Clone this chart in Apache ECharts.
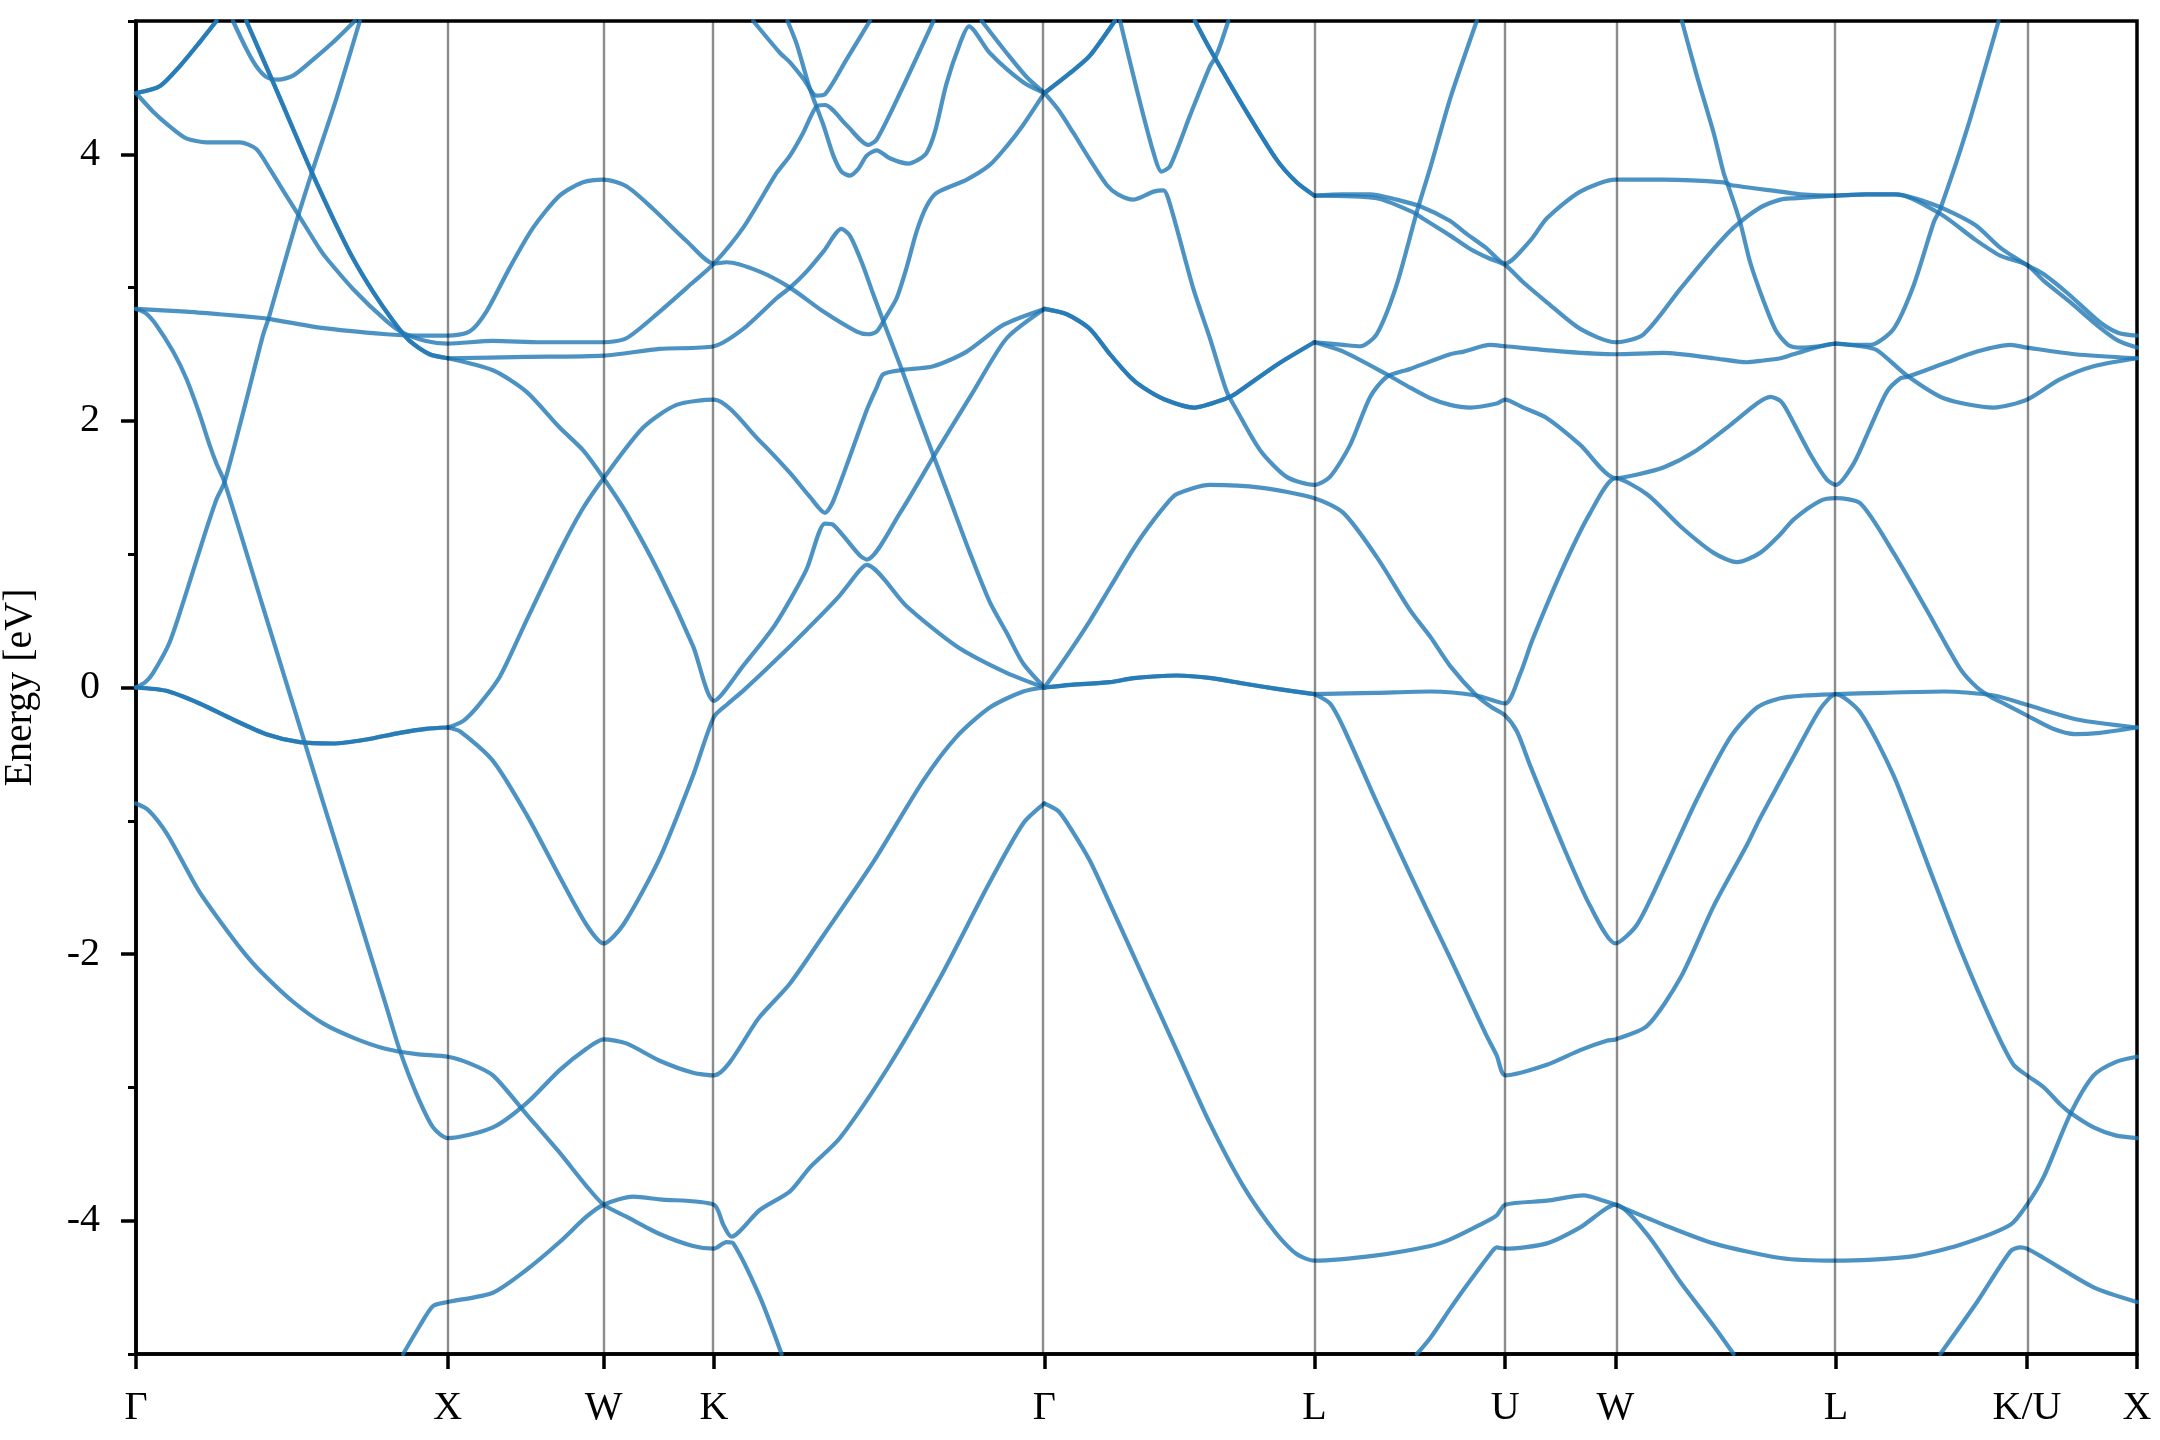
<!DOCTYPE html>
<html><head><meta charset="utf-8">
<script src="https://cdn.jsdelivr.net/npm/echarts@6/dist/echarts.min.js"></script>
<style>html,body{margin:0;padding:0;background:#fff}#c{width:2160px;height:1440px}</style>
</head><body><div id="c"></div>
<script>
// high-symmetry path
const kTicks = [0, 1, 1.5, 1.854, 2.914, 3.780, 4.392, 4.746, 5.453, 6.066, 6.419];
const kLabels = ['Γ','X','W','K','Γ','L','U','W','L','K/U','X'];
const yMajor = [-4, -2, 0, 2, 4];
const yMinor = [-5, -3, -1, 1, 3, 5];

// band curves [k, E(eV)]
const bandA = [[0,-0.87],[0.04,-0.92],[0.1,-1.1],[0.2,-1.52],[0.3,-1.85],[0.35,-2.0],[0.4,-2.13],[0.5,-2.35],[0.6,-2.52],[0.7,-2.63],[0.8,-2.71],[0.9,-2.75],[1.0,-2.77],[1.07,-2.82],[1.145,-2.91],[1.252,-3.2],[1.359,-3.49],[1.445,-3.74],[1.5,-3.88],[1.573,-3.97],[1.68,-4.1],[1.787,-4.19],[1.854,-4.21],[1.894,-4.16],[1.916,-4.17],[2.001,-4.57],[2.071,-5.0]];
const bandB1 = [[0,0],[0.097,-0.025],[0.204,-0.12],[0.311,-0.24],[0.418,-0.35],[0.525,-0.41],[0.632,-0.42],[0.739,-0.39],[0.846,-0.34],[0.93,-0.31],[1.0,-0.30]];
const bandB2 = [[1.0,-0.30],[1.04,-0.33],[1.145,-0.55],[1.252,-0.95],[1.359,-1.42],[1.445,-1.78],[1.5,-1.92],[1.563,-1.78],[1.68,-1.28],[1.787,-0.66],[1.854,-0.22],[1.9,-0.12],[1.95,-0.02],[2.05,0.2],[2.15,0.43],[2.25,0.67],[2.322,0.88],[2.344,0.92],[2.472,0.61],[2.632,0.31],[2.793,0.11],[2.914,0.0]];
const bandC = [[0,0],[0.03,0.04],[0.055,0.11],[0.108,0.34],[0.161,0.71],[0.215,1.11],[0.258,1.41],[0.284,1.54],[0.35,2.12],[0.407,2.64],[0.424,2.76],[0.44,2.89],[0.514,3.49],[0.568,3.89],[0.643,4.42],[0.718,5.0]];
const bandD = [[0,2.84],[0.03,2.81],[0.065,2.72],[0.119,2.52],[0.161,2.32],[0.204,2.05],[0.236,1.82],[0.258,1.68],[0.284,1.54],[0.4,0.66],[0.5,-0.1],[0.6,-0.86],[0.7,-1.61],[0.8,-2.37],[0.846,-2.72],[0.9,-3.05],[0.953,-3.3],[1.0,-3.38],[1.145,-3.3],[1.252,-3.12],[1.359,-2.87],[1.445,-2.71],[1.5,-2.64],[1.573,-2.67],[1.68,-2.8],[1.787,-2.89],[1.854,-2.91],[2.001,-2.47],[2.098,-2.22],[2.205,-1.86],[2.365,-1.31],[2.525,-0.7],[2.632,-0.37],[2.739,-0.15],[2.846,-0.03],[2.914,0]];
const bandE = [[0,2.84],[0.161,2.82],[0.268,2.8],[0.413,2.77],[0.44,2.76],[0.589,2.7],[0.803,2.65],[0.9,2.64],[1.0,2.64],[1.07,2.67],[1.124,2.82],[1.199,3.15],[1.274,3.45],[1.359,3.69],[1.434,3.79],[1.5,3.81],[1.573,3.76],[1.659,3.59],[1.766,3.35],[1.854,3.18],[1.894,3.19],[2.001,3.12],[2.098,3.0],[2.205,2.82],[2.312,2.67],[2.349,2.65],[2.376,2.67],[2.408,2.79],[2.44,2.92],[2.472,3.15],[2.504,3.42],[2.536,3.61],[2.568,3.71],[2.665,3.81],[2.739,3.92],[2.793,4.06],[2.846,4.22],[2.914,4.46]];
const bandF = [[0,4.46],[0.055,4.32],[0.108,4.21],[0.161,4.12],[0.226,4.09],[0.333,4.09],[0.386,4.04],[0.429,3.89],[0.482,3.69],[0.52,3.55],[0.589,3.29],[0.611,3.22],[0.696,2.99],[0.803,2.75],[0.857,2.66],[0.93,2.6],[1.0,2.58],[1.145,2.6],[1.3,2.59],[1.5,2.59],[1.573,2.62],[1.68,2.82],[1.787,3.04],[1.854,3.18],[1.948,3.45],[2.055,3.86],[2.098,3.99],[2.14,4.16],[2.183,4.36],[2.21,4.37],[2.279,4.22],[2.349,4.07],[2.376,4.11],[2.451,4.46],[2.558,5.0]];
const bandG = [[0,4.46],[0.076,4.51],[0.14,4.66],[0.204,4.84],[0.258,5.0]];
const bandH = [[0.311,5.0],[0.354,4.79],[0.386,4.66],[0.418,4.58],[0.456,4.56],[0.504,4.59],[0.568,4.71],[0.632,4.84],[0.702,5.0]];
const bandI1 = [[0.354,5.0],[0.44,4.54],[0.504,4.19],[0.563,3.87],[0.632,3.52],[0.696,3.22],[0.76,2.97],[0.825,2.75],[0.878,2.6],[0.942,2.5],[1.0,2.47]];
const bandI2 = [[1.0,2.47],[1.145,2.38],[1.252,2.22],[1.359,1.95],[1.434,1.78],[1.5,1.57],[1.573,1.31],[1.68,0.85],[1.787,0.31],[1.854,-0.1],[1.95,0.17],[2.05,0.47],[2.15,0.88],[2.21,1.23],[2.237,1.22],[2.322,0.99],[2.344,0.96],[2.451,1.31],[2.558,1.73],[2.686,2.22],[2.793,2.62],[2.914,2.84]];
const bandJ = [[1.0,-0.30],[1.05,-0.25],[1.1,-0.13],[1.167,0.08],[1.252,0.5],[1.359,1.02],[1.43,1.33],[1.5,1.57],[1.627,1.95],[1.734,2.12],[1.854,2.16],[2.001,1.85],[2.098,1.61],[2.162,1.43],[2.21,1.31],[2.237,1.4],[2.344,2.08],[2.376,2.25],[2.397,2.35],[2.451,2.38],[2.558,2.41],[2.665,2.52],[2.782,2.72],[2.914,2.84]];
const bandK = [[1.0,2.47],[1.252,2.48],[1.5,2.49],[1.68,2.54],[1.854,2.56],[1.948,2.69],[2.055,2.92],[2.098,3.0],[2.151,3.12],[2.205,3.27],[2.263,3.44],[2.29,3.39],[2.328,3.19],[2.365,2.95],[2.397,2.75],[2.451,2.42],[2.504,2.08],[2.558,1.74],[2.611,1.41],[2.675,1.01],[2.739,0.64],[2.793,0.41],[2.846,0.18],[2.914,0.0]];
const bandL = [[0.857,-5.0],[0.91,-4.79],[0.953,-4.64],[1.0,-4.61],[1.145,-4.54],[1.252,-4.37],[1.359,-4.16],[1.445,-3.97],[1.5,-3.88],[1.595,-3.82],[1.68,-3.84],[1.854,-3.88],[1.884,-4.03],[1.91,-4.12],[2.001,-3.92],[2.098,-3.78],[2.162,-3.6],[2.258,-3.38],[2.418,-2.83],[2.579,-2.18],[2.739,-1.46],[2.846,-1.02],[2.914,-0.87]];
const bandM = [[2.09,5.0],[2.119,4.83],[2.162,4.49],[2.205,4.22],[2.237,3.99],[2.263,3.87],[2.29,3.84],[2.317,3.89],[2.344,3.99],[2.376,4.03],[2.418,3.97],[2.477,3.93],[2.51,3.96],[2.536,4.01],[2.563,4.17],[2.6,4.53],[2.643,4.83],[2.672,4.96],[2.739,4.76],[2.846,4.54],[2.914,4.46]];
const bandN = [[1.98,5.0],[2.066,4.76],[2.098,4.69],[2.14,4.57],[2.183,4.44],[2.21,4.45],[2.279,4.71],[2.354,5.0]];
const bandO = [[2.713,5.0],[2.793,4.76],[2.857,4.58],[2.914,4.46]];
const glTop = [[2.914,4.46],[3.007,4.63],[3.06,4.74],[3.14,5.0]];
const glDesc = [[2.914,4.46],[2.96,4.33],[3.007,4.16],[3.06,3.96],[3.114,3.77],[3.15,3.7],[3.2,3.66],[3.264,3.72],[3.296,3.73],[3.32,3.6],[3.392,2.99],[3.445,2.62],[3.499,2.22],[3.531,2.08],[3.606,1.78],[3.691,1.58],[3.78,1.52],[3.83,1.58],[3.895,1.82],[3.959,2.18],[4.012,2.33],[4.087,2.39],[4.216,2.5],[4.259,2.52],[4.344,2.57],[4.392,2.56],[4.58,2.52],[4.746,2.5],[4.9,2.51],[5.061,2.47],[5.168,2.44],[5.21,2.45],[5.275,2.47],[5.317,2.5],[5.453,2.58],[5.532,2.56],[5.585,2.53],[5.681,2.34],[5.799,2.17],[5.959,2.1],[6.066,2.16],[6.17,2.31],[6.28,2.41],[6.419,2.47]];
const glIV = [[2.914,2.84],[2.986,2.8],[3.06,2.69],[3.1245,2.5],[3.189,2.33],[3.231,2.25],[3.3,2.16],[3.392,2.1],[3.499,2.17],[3.531,2.21],[3.659,2.42],[3.78,2.59]];
const lD = [[3.78,2.59],[3.873,2.52],[4.012,2.35],[4.087,2.25],[4.152,2.17],[4.216,2.12],[4.28,2.1],[4.365,2.13],[4.392,2.16],[4.45,2.1],[4.526,2.02],[4.633,1.82],[4.746,1.57],[4.82,1.6],[4.9,1.65],[5.007,1.78],[5.115,1.97],[5.2,2.13],[5.243,2.18],[5.275,2.15],[5.296,2.08],[5.371,1.75],[5.424,1.56],[5.453,1.52],[5.51,1.68],[5.563,1.95],[5.617,2.22],[5.66,2.32],[5.681,2.33],[5.799,2.43],[5.906,2.52],[6.013,2.57],[6.066,2.55],[6.22,2.5],[6.419,2.47]];
const glV = [[2.914,0],[2.96,0.15],[3.007,0.31],[3.06,0.5],[3.1245,0.75],[3.189,1.0],[3.231,1.15],[3.3,1.36],[3.338,1.45],[3.445,1.52],[3.606,1.5],[3.78,1.42],[3.873,1.31],[3.98,0.98],[4.087,0.58],[4.152,0.38],[4.216,0.16],[4.3,-0.06],[4.35,-0.15],[4.392,-0.21],[4.43,-0.33],[4.473,-0.59],[4.58,-1.2],[4.665,-1.64],[4.746,-1.92],[4.815,-1.78],[4.9,-1.38],[5.007,-0.84],[5.115,-0.37],[5.2,-0.15],[5.275,-0.08],[5.35,-0.06],[5.453,-0.05],[5.6,-0.04],[5.8,-0.03],[5.96,-0.06],[6.066,-0.13],[6.227,-0.24],[6.419,-0.30]];
const glVI = [[2.914,0.0],[3.0,0.02],[3.1245,0.04],[3.2,0.07],[3.338,0.09],[3.45,0.07],[3.552,0.03],[3.66,-0.01],[3.78,-0.05]];
const luG = [[3.78,-0.05],[3.98,-0.04],[4.152,-0.03],[4.3,-0.06],[4.392,-0.12],[4.44,0.1],[4.48,0.36],[4.58,0.91],[4.665,1.31],[4.746,1.57],[4.847,1.45],[4.954,1.21],[5.061,1.01],[5.136,0.94],[5.21,1.01],[5.275,1.15],[5.317,1.26],[5.403,1.4],[5.453,1.42],[5.532,1.38],[5.638,1.01],[5.745,0.58],[5.852,0.14],[5.906,0.0],[5.95,-0.07],[6.0,-0.13],[6.066,-0.21],[6.15,-0.31],[6.22,-0.35],[6.3,-0.34],[6.419,-0.30]];
const glVII = [[2.914,-0.87],[2.96,-0.93],[3.007,-1.09],[3.06,-1.3],[3.12,-1.6],[3.231,-2.17],[3.338,-2.72],[3.445,-3.27],[3.552,-3.74],[3.659,-4.1],[3.723,-4.25],[3.78,-4.3],[3.98,-4.26],[4.152,-4.19],[4.216,-4.14],[4.312,-4.03],[4.365,-3.96],[4.392,-3.88],[4.526,-3.85],[4.644,-3.81],[4.708,-3.85],[4.746,-3.88],[4.9,-4.03],[5.061,-4.17],[5.275,-4.28],[5.453,-4.3],[5.692,-4.27],[5.852,-4.18],[6.013,-4.03],[6.066,-3.88],[6.12,-3.67],[6.205,-3.2],[6.28,-2.91],[6.35,-2.81],[6.419,-2.77]];
const glI = [[3.157,5.0],[3.21,4.49],[3.263,4.02],[3.29,3.87],[3.317,3.91],[3.381,4.29],[3.445,4.66],[3.461,4.72],[3.477,4.81],[3.504,5.0]];
const glIII = [[3.397,5.0],[3.445,4.79],[3.552,4.36],[3.659,3.96],[3.723,3.79],[3.78,3.69]];
const lA = [[3.78,3.69],[3.873,3.7],[3.959,3.7],[4.044,3.66],[4.119,3.61],[4.216,3.5],[4.259,3.42],[4.33,3.3],[4.392,3.18],[4.472,3.35],[4.526,3.52],[4.633,3.72],[4.746,3.81],[4.9,3.81],[5.093,3.79],[5.115,3.77],[5.275,3.72],[5.339,3.7],[5.453,3.69],[5.55,3.7],[5.64,3.7],[5.77,3.62],[5.9,3.47],[5.98,3.3],[6.066,3.17],[6.12,3.1],[6.2,2.95],[6.3,2.74],[6.36,2.66],[6.419,2.64]];
const lB = [[3.78,3.69],[3.98,3.67],[4.093,3.57],[4.114,3.54],[4.216,3.39],[4.28,3.29],[4.34,3.22],[4.392,3.17],[4.45,3.04],[4.526,2.89],[4.633,2.69],[4.746,2.59],[4.836,2.65],[4.954,2.99],[5.061,3.29],[5.125,3.45],[5.21,3.6],[5.275,3.66],[5.317,3.67],[5.453,3.69],[5.55,3.7],[5.65,3.7],[5.79,3.55],[5.9,3.36],[5.98,3.24],[6.066,3.17],[6.12,3.05],[6.2,2.9],[6.3,2.7],[6.36,2.6],[6.419,2.55]];
const lC = [[3.78,2.59],[3.873,2.57],[3.927,2.56],[3.98,2.65],[4.044,3.02],[4.109,3.57],[4.152,3.9],[4.216,4.42],[4.301,5.0]];
const wlSteep = [[4.959,5.0],[5.007,4.59],[5.061,4.16],[5.093,3.86],[5.114,3.72],[5.146,3.49],[5.178,3.19],[5.221,2.9],[5.26,2.68],[5.3,2.57],[5.34,2.55],[5.4,2.56],[5.453,2.58],[5.5,2.57],[5.563,2.57],[5.638,2.69],[5.703,3.02],[5.767,3.49],[5.788,3.59],[5.874,4.19],[5.975,5.0]];
const lBot = [[3.78,-0.05],[3.83,-0.12],[3.873,-0.3],[3.98,-0.86],[4.087,-1.4],[4.152,-1.72],[4.216,-2.03],[4.258,-2.24],[4.33,-2.6],[4.365,-2.76],[4.392,-2.91],[4.526,-2.83],[4.633,-2.72],[4.718,-2.65],[4.746,-2.64],[4.847,-2.54],[4.954,-2.18],[5.061,-1.64],[5.168,-1.18],[5.21,-0.98],[5.275,-0.7],[5.317,-0.52],[5.403,-0.16],[5.453,-0.05],[5.532,-0.19],[5.638,-0.66],[5.745,-1.31],[5.852,-1.96],[5.959,-2.54],[6.023,-2.83],[6.066,-2.91],[6.12,-3.0],[6.17,-3.12],[6.205,-3.19],[6.28,-3.3],[6.35,-3.36],[6.419,-3.38]];
const uLow = [[4.109,-5.0],[4.152,-4.88],[4.216,-4.66],[4.258,-4.52],[4.344,-4.25],[4.365,-4.2],[4.392,-4.21],[4.526,-4.17],[4.633,-4.05],[4.746,-3.88],[4.847,-4.1],[4.954,-4.46],[5.061,-4.79],[5.125,-5.0]];
const mLow = [[5.788,-5.0],[5.906,-4.61],[6.013,-4.23],[6.045,-4.2],[6.066,-4.21],[6.12,-4.28],[6.28,-4.5],[6.419,-4.61]];

// curves that are doubly degenerate (drawn twice, as overlapping lines look darker)
const singleCurves = [bandA, bandB2, bandC, bandD, bandE, bandF, bandH, bandI2, bandJ, bandK, bandL, bandM, bandN, bandO, glDesc, lD, glV, luG, glVII, glI, lA, lB, lC, wlSteep, lBot, uLow, mLow];
const doubleCurves = [bandB1, bandG, bandI1, glTop, glIV, glVI, glIII];

const FONT = '"Liberation Serif", "DejaVu Serif", serif';
const LINE = 'rgba(31,119,180,0.8)';
const FS = 40;

const series = [{
  type: 'line', data: [], silent: true, z: 1, animation: false,
  markLine: {
    silent: true, symbol: ['none', 'none'], animation: false,
    label: { show: false },
    lineStyle: { color: 'rgba(0,0,0,0.45)', width: 2.4, type: 'solid' },
    data: kTicks.slice(1, -1).map(v => ({ xAxis: v }))
  }
}];
function addCurve(d) {
  series.push({
    type: 'line', data: d, symbol: 'none', showSymbol: false, smooth: 0.25,
    clip: true, z: 2, animation: false, silent: true,
    lineStyle: { color: LINE, width: 4.2, cap: 'round', join: 'round' },
    emphasis: { disabled: true }
  });
}
singleCurves.forEach(addCurve);
doubleCurves.forEach(d => { addCurve(d); addCurve(d); });

const chart = echarts.init(document.getElementById('c'), null, { renderer: 'canvas', width: 2160, height: 1440 });
chart.setOption({
  animation: false,
  backgroundColor: '#fff',
  grid: { left: 136, right: 23, top: 21, bottom: 86, show: true, borderColor: '#000', borderWidth: 3.5, backgroundColor: 'transparent', containLabel: false, outerBoundsMode: 'none' },
  xAxis: [{
    type: 'value', min: 0, max: 6.419, position: 'bottom',
    axisLine: { show: true, onZero: false, lineStyle: { color: '#000', width: 3.5 } },
    axisTick: { show: true, customValues: kTicks, length: 15, lineStyle: { color: '#000', width: 3.5 } },
    axisLabel: {
      show: true, customValues: kTicks, showMinLabel: true, showMaxLabel: true,
      formatter: v => { let i = 0, best = 1e9; kTicks.forEach((t, j) => { const d = Math.abs(t - v); if (d < best) { best = d; i = j; } }); return kLabels[i]; },
      fontFamily: FONT, fontSize: FS, color: '#000', margin: 34
    },
    splitLine: { show: false }
  }],
  yAxis: [{
    type: 'value', min: -5, max: 5, position: 'left',
    axisLine: { show: true, onZero: false, lineStyle: { color: '#000', width: 3.5 } },
    axisTick: { show: true, customValues: yMajor, length: 15, lineStyle: { color: '#000', width: 3.5 } },
    axisLabel: { show: true, customValues: yMajor, fontFamily: FONT, fontSize: FS, color: '#000', margin: 36 },
    splitLine: { show: false },
    name: 'Energy [eV]', nameLocation: 'middle', nameGap: 96,
    nameTextStyle: { fontFamily: FONT, fontSize: FS, color: '#000' }
  }, {
    type: 'value', min: -5, max: 5, position: 'left', offset: 0,
    axisLine: { show: false },
    axisTick: { show: true, customValues: yMinor, length: 8, lineStyle: { color: '#000', width: 3 } },
    axisLabel: { show: false },
    splitLine: { show: false }
  }],
  series: series
});
</script>
</body></html>
